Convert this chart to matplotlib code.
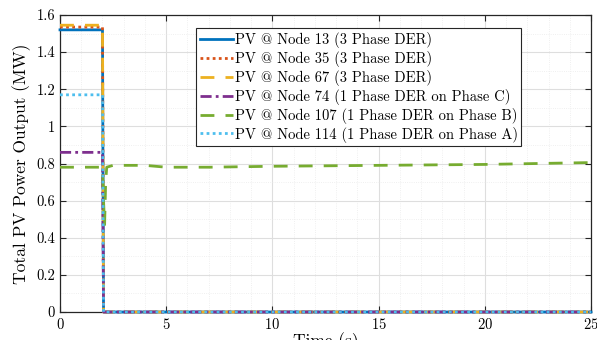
import matplotlib.pyplot as plt
from matplotlib.ticker import AutoMinorLocator

plt.rcParams['font.family'] = ['cmr10', 'DejaVu Serif']
plt.rcParams['mathtext.fontset'] = 'cm'
plt.rcParams['axes.formatter.use_mathtext'] = True

# PV output (MW) per node, trip at ~2 s
t_step = [0, 2.0, 2.05, 25]
p_node13 = [1.52, 1.52, 0, 0]
p_node35 = [1.535, 1.535, 0, 0]
p_node67 = [1.545, 1.545, 0, 0]
p_node74 = [0.86, 0.86, 0, 0]
p_node114 = [1.17, 1.17, 0, 0]

t_node107 = [0, 2.0, 2.05, 2.1, 2.15, 2.2, 2.5, 3, 4, 5, 7, 10, 15, 20, 25]
p_node107 = [0.78, 0.78, 0.6, 0.47, 0.7, 0.78, 0.79, 0.79, 0.79, 0.78, 0.78,
             0.785, 0.79, 0.795, 0.805]

labels = [
    'PV @ Node 13 (3 Phase DER)',
    'PV @ Node 35 (3 Phase DER)',
    'PV @ Node 67 (3 Phase DER)',
    'PV @ Node 74 (1 Phase DER on Phase C)',
    'PV @ Node 107 (1 Phase DER on Phase B)',
    'PV @ Node 114 (1 Phase DER on Phase A)',
]

fig = plt.figure(figsize=(5.97, 3.40), dpi=100)
ax = fig.add_axes([60 / 597, 28 / 340, 531 / 597, 297 / 340])

lw = 2
kw = dict(lw=lw, clip_on=False, zorder=3)
ax.plot(t_step, p_node13, color='#0072BD', ls='-', label=labels[0], **kw)
ax.plot(t_step, p_node35, color='#D95319', ls=(0, (1, 1.2)), label=labels[1], **kw)
ax.plot(t_step, p_node67, color='#EDB120', ls=(0, (5, 4)), label=labels[2], **kw)
ax.plot(t_step, p_node74, color='#7E2F8E', ls=(0, (4, 1.5, 1, 1.5)), label=labels[3], **kw)
ax.plot(t_node107, p_node107, color='#77AC30', ls=(0, (5, 4)), label=labels[4], **kw)
ax.plot(t_step, p_node114, color='#4DBEEE', ls=(0, (1, 1.2)), label=labels[5], **kw)

ax.set_xlim(0, 25)
ax.set_ylim(0, 1.6)
ax.set_xticks([0, 5, 10, 15, 20, 25])
ax.set_yticks([0, 0.2, 0.4, 0.6, 0.8, 1, 1.2, 1.4, 1.6])
ax.set_yticklabels(['0', '0.2', '0.4', '0.6', '0.8', '1', '1.2', '1.4', '1.6'])
ax.xaxis.set_minor_locator(AutoMinorLocator(5))
ax.yaxis.set_minor_locator(AutoMinorLocator(2))
ax.grid(which='major', color='#dedede', lw=0.8)
ax.grid(which='minor', color='#ebebeb', lw=0.6, ls=':')
ax.set_axisbelow(True)
ax.tick_params(which='both', direction='in', labelsize=10.5, color='#262626')
ax.tick_params(which='minor', length=0)
ax.tick_params(which='major', length=4, top=True, right=True)
for s in ax.spines.values():
    s.set_color('#262626')
    s.set_linewidth(0.9)

ax.set_xlabel('Time (s)', fontsize=12.5, labelpad=0)
ax.set_ylabel('Total PV Power Output (MW)', fontsize=12.5)

leg = ax.legend(loc='upper left', bbox_to_anchor=(0.256, 0.955), fontsize=10.5,
                handlelength=2.3, handletextpad=0.1, borderpad=0.25,
                labelspacing=0.2, fancybox=False, framealpha=1,
                borderaxespad=0)
leg.get_frame().set_edgecolor('#262626')
leg.get_frame().set_linewidth(0.8)
leg.set_zorder(5)

fig.savefig('out.png', dpi=100)
